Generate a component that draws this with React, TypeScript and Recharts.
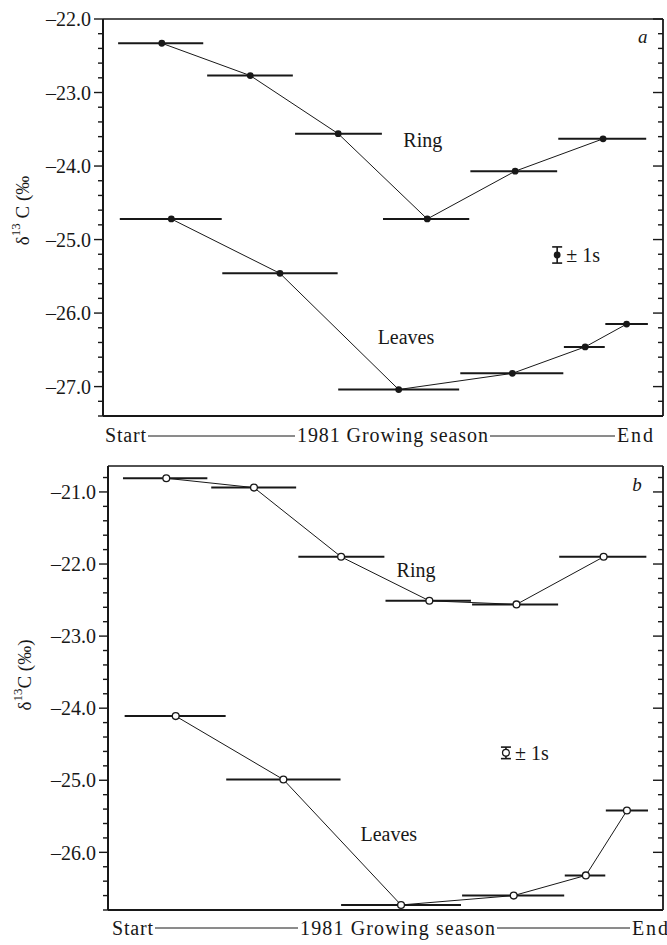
import React from 'react';
import { ComposedChart, Scatter, ErrorBar, XAxis, YAxis, ReferenceDot } from 'recharts';

const INK = '#181818';
const SERIF = '"Liberation Serif", "Times New Roman", serif';

// sampling periods through the 1981 growing season (0 = start, 100 = end)
const RING_FROM = [2.7, 18.6, 34.3, 50.0, 65.6, 81.3];
const RING_TO = [17.9, 33.9, 49.8, 65.4, 81.1, 97.0];
const RING_MID = [10.5, 26.3, 42.0, 57.9, 73.6, 89.3];
const LEAF_FROM = [3.0, 21.3, 42.0, 63.8, 82.3, 89.7];
const LEAF_TO = [21.2, 41.9, 63.6, 82.2, 89.6, 97.3];
const LEAF_MID = [12.2, 31.6, 52.8, 73.1, 86.1, 93.5];

// delta 13C (per mil)
const RING_A = [-22.33, -22.77, -23.56, -24.72, -24.07, -23.63];
const LEAVES_A = [-24.72, -25.46, -27.04, -26.82, -26.46, -26.15];
const RING_B = [-20.81, -20.94, -21.9, -22.51, -22.56, -21.9];
const LEAVES_B = [-24.11, -24.99, -26.73, -26.6, -26.32, -25.42];

const TICKS_A = [-27, -26, -25, -24, -23, -22];
const TICKS_B = [-26, -25, -24, -23, -22, -21];
const DOMAIN_A: [number, number] = [-27.4, -22];
const DOMAIN_B: [number, number] = [-26.8, -20.64];
const SD_A = 0.11;
const SD_B = 0.08;

function rows(mid: number[], from: number[], to: number[], vals: number[]) {
  return mid.map((x, i) => ({ x, y: vals[i], span: [x - from[i], to[i] - x] }));
}

// minor ticks every 0.2 between the labelled whole values
function stepTicks(domain: [number, number]) {
  const out: number[] = [];
  const first = Math.ceil(domain[0] * 5 - 1e-6) / 5;
  for (let k = 0; first + k * 0.2 <= domain[1] + 1e-6; k++) out.push(Math.round((first + k * 0.2) * 10) / 10);
  return out;
}

function AxisTick({ x, y, payload, reach, major, minor, showText }: any) {
  const v = payload.value;
  const isMajor = Math.abs(v - Math.round(v)) < 1e-6;
  const ax = x + reach;
  return (
    <g>
      <line x1={ax - (isMajor ? major : minor)} x2={ax} y1={y} y2={y} stroke={INK} strokeWidth={1.4} />
      {showText && isMajor && (
        <text x={x} y={y} dy="0.36em" textAnchor="end" fontSize={20} fontFamily={SERIF} fill={INK}>
          {(v < 0 ? '–' : '') + Math.abs(v).toFixed(1)}
        </text>
      )}
    </g>
  );
}

const solidDot = (p: any) => <circle cx={p.cx} cy={p.cy} r={3.4} fill={INK} />;
const openDot = (p: any) => <circle cx={p.cx} cy={p.cy} r={3.4} fill="#fff" stroke={INK} strokeWidth={1.3} />;

function Panel(cfg: any) {
  const { height, margin, xHeight, ring, leaves, domain, open, letter, notes, keyPt, title, titleShift, season } = cfg;
  const dot = open ? openDot : solidDot;
  const keyShape = (p: any) => (
    <g>
      {dot(p)}
      <text x={p.cx + 9} y={p.cy} dy="0.36em" fontSize={20} fontFamily={SERIF} fill={INK}>
        ± 1s
      </text>
    </g>
  );
  const all = stepTicks(domain);

  const yTitle = (p: any) => {
    const vb = p.viewBox;
    const cx = vb.x + titleShift[0];
    const cy = vb.y + vb.height / 2 + titleShift[1];
    return (
      <text x={cx} y={cy} transform={`rotate(-90 ${cx} ${cy})`} textAnchor="middle" dominantBaseline="central" fontSize={19} fontFamily={SERIF} fill={INK}>
        δ<tspan dy={-7} fontSize={13}>13</tspan>
        <tspan dy={7}>{title}</tspan>
      </text>
    );
  };

  const seasonLabel = (p: any) => {
    const { x, y } = p.viewBox;
    const base = y + season.base;
    const ly = y + season.line;
    const txt = { fontSize: 20, fontFamily: SERIF, fill: INK };
    return (
      <g>
        <text x={x + season.start} y={base} textLength={41} {...txt}>Start</text>
        <line x1={x + season.start + 43} x2={x + season.mid - 2} y1={ly} y2={ly} stroke={INK} strokeWidth={1} />
        <text x={x + season.mid} y={base} textLength={season.midLen} {...txt}>1981 Growing season</text>
        <line x1={x + season.mid + season.midLen + 2} x2={x + season.end - 2} y1={ly} y2={ly} stroke={INK} strokeWidth={1} />
        <text x={x + season.end} y={base} textLength={36} {...txt}>End</text>
      </g>
    );
  };

  return (
    <ComposedChart width={667} height={height} margin={margin}>
      <XAxis xAxisId="top" orientation="top" type="number" dataKey="x" domain={[0, 100]} allowDataOverflow height={1} tick={false} tickLine={false} axisLine={{ stroke: INK, strokeWidth: 1.6 }} />
      <XAxis type="number" dataKey="x" domain={[0, 100]} allowDataOverflow height={xHeight} tick={false} tickLine={false} axisLine={{ stroke: INK, strokeWidth: 2 }} label={seasonLabel} />
      <YAxis
        type="number"
        domain={domain}
        allowDataOverflow
        ticks={all}
        interval={0}
        width={60}
        tickSize={9}
        tickMargin={3}
        tickLine={false}
        axisLine={{ stroke: INK, strokeWidth: 2 }}
        tick={(p: any) => <AxisTick {...p} reach={12} major={9} minor={5} showText />}
        label={yTitle}
      />
      <YAxis
        yAxisId="r"
        orientation="right"
        type="number"
        domain={domain}
        allowDataOverflow
        ticks={all}
        interval={0}
        width={1}
        tickSize={0}
        tickMargin={0}
        tickLine={false}
        axisLine={{ stroke: INK, strokeWidth: 1.8 }}
        tick={(p: any) => <AxisTick {...p} reach={0} major={10} minor={5} showText={false} />}
      />
      <Scatter data={ring} dataKey="y" shape={dot} line={{ stroke: INK, strokeWidth: 1 }} lineType="joint" isAnimationActive={false}>
        <ErrorBar dataKey="span" direction="x" width={0} stroke={INK} strokeWidth={2} />
      </Scatter>
      <Scatter data={leaves} dataKey="y" shape={dot} line={{ stroke: INK, strokeWidth: 1 }} lineType="joint" isAnimationActive={false}>
        <ErrorBar dataKey="span" direction="x" width={0} stroke={INK} strokeWidth={2} />
      </Scatter>
      <Scatter data={[keyPt]} dataKey="y" shape={keyShape} isAnimationActive={false}>
        <ErrorBar dataKey="e" direction="y" width={5} stroke={INK} strokeWidth={1.6} />
      </Scatter>
      {notes.map((n: any) => (
        <ReferenceDot
          key={n.text}
          x={n.x}
          y={n.y}
          r={0}
          fill="none"
          stroke="none"
          label={{ value: n.text, position: 'center', fill: INK, fontSize: 20, fontFamily: SERIF }}
        />
      ))}
      <ReferenceDot
        x={letter.x}
        y={letter.y}
        r={0}
        fill="none"
        stroke="none"
        label={{ value: letter.text, position: 'center', fill: INK, fontSize: 19, fontFamily: SERIF, fontStyle: 'italic' }}
      />
    </ComposedChart>
  );
}

export default function App() {
  return (
    <div style={{ position: 'absolute', left: 0, top: 0, width: 667, height: 945, background: '#fff' }}>
      <Panel
        height={450}
        margin={{ top: 18, right: 3, bottom: 0, left: 43 }}
        xHeight={34}
        ring={rows(RING_MID, RING_FROM, RING_TO, RING_A)}
        leaves={rows(LEAF_MID, LEAF_FROM, LEAF_TO, LEAVES_A)}
        domain={DOMAIN_A}
        open={false}
        letter={{ text: 'a', x: 96.4, y: -22.23 }}
        notes={[
          { text: 'Ring', x: 57.1, y: -23.64 },
          { text: 'Leaves', x: 54.1, y: -26.32 },
        ]}
        keyPt={{ x: 81.1, y: -25.21, e: SD_A }}
        title=" C (‰"
        titleShift={[-21, -7]}
        season={{ start: 2, mid: 194, midLen: 191, end: 514, base: 26, line: 20 }}
      />
      <Panel
        height={495}
        margin={{ top: 15, right: 3, bottom: 0, left: 48 }}
        xHeight={35}
        ring={rows(RING_MID, RING_FROM, RING_TO, RING_B)}
        leaves={rows(LEAF_MID, LEAF_FROM, LEAF_TO, LEAVES_B)}
        domain={DOMAIN_B}
        open
        letter={{ text: 'b', x: 95.3, y: -20.9 }}
        notes={[
          { text: 'Ring', x: 55.5, y: -22.08 },
          { text: 'Leaves', x: 50.6, y: -25.75 },
        ]}
        keyPt={{ x: 71.7, y: -24.62, e: SD_B }}
        title="C (‰)"
        titleShift={[-24, -13]}
        season={{ start: 4, mid: 192, midLen: 195, end: 524, base: 25, line: 18 }}
      />
    </div>
  );
}
